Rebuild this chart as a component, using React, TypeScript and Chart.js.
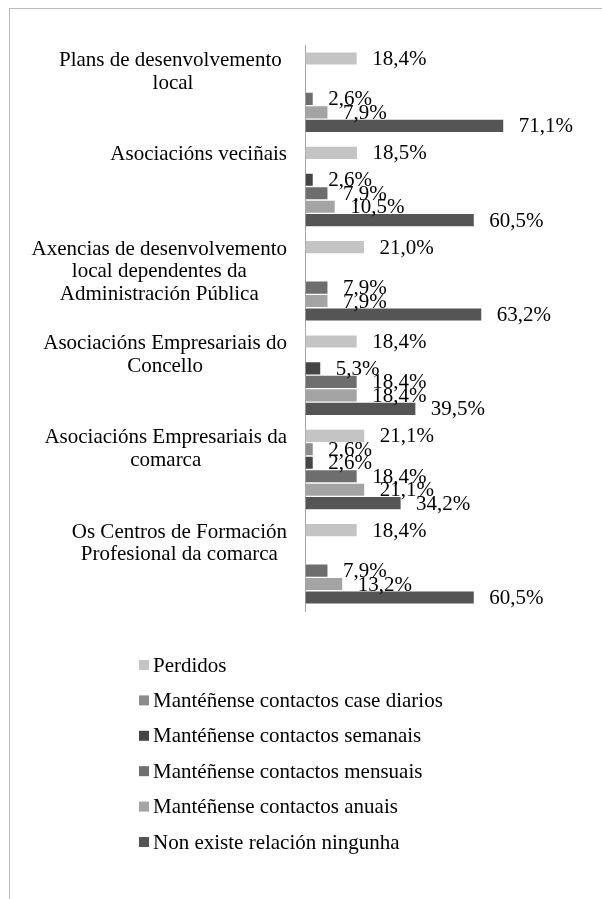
import React, { useEffect, useRef } from "react";
import { Chart, registerables } from "chart.js";

Chart.register(...registerables);

const categories: string[][] = [
  ["Plans de desenvolvemento ", "local"],
  ["Asociacións veciñais"],
  ["Axencias de desenvolvemento", "local dependentes da", "Administración Pública"],
  ["Asociacións Empresariais do", "Concello"],
  ["Asociacións Empresariais da", "comarca"],
  ["Os Centros de Formación", "Profesional da comarca"],
];

const seriesNames = [
  "Perdidos",
  "Mantéñense contactos case diarios",
  "Mantéñense contactos semanais",
  "Mantéñense contactos mensuais",
  "Mantéñense contactos anuais",
  "Non existe relación ningunha",
];

const perdidos = [18.4, 18.5, 21.0, 18.4, 21.1, 18.4];
const caseDiarios = [0, 0, 0, 0, 2.6, 0];
const semanais = [0, 2.6, 0, 5.3, 2.6, 0];
const mensuais = [2.6, 7.9, 7.9, 18.4, 18.4, 7.9];
const anuais = [7.9, 10.5, 7.9, 18.4, 21.1, 13.2];
const nonExiste = [71.1, 60.5, 63.2, 39.5, 34.2, 60.5];

const seriesValues = [perdidos, caseDiarios, semanais, mensuais, anuais, nonExiste];
const seriesColors = ["#c4c4c4", "#8c8c8c", "#454545", "#6e6e6e", "#a4a4a4", "#555555"];

const FONT = '"Liberation Serif", "Times New Roman", serif';
const FONT_SIZE = 21;

const dataLabelPlugin = {
  id: "dataLabels",
  afterDatasetsDraw(chart: any) {
    const ctx = chart.ctx;
    ctx.save();
    ctx.font = `${FONT_SIZE}px ${FONT}`;
    ctx.fillStyle = "#000";
    ctx.textAlign = "left";
    ctx.textBaseline = "middle";
    chart.data.datasets.forEach((ds: any, di: number) => {
      const meta = chart.getDatasetMeta(di);
      meta.data.forEach((el: any, i: number) => {
        const v = ds.data[i];
        if (!v) return;
        const txt = v.toFixed(1).replace(".", ",") + "%";
        ctx.fillText(txt, el.x + 15.5, el.y + 1);
      });
    });
    ctx.restore();
  },
};

const categoryLabelPlugin = {
  id: "categoryLabels",
  afterDraw(chart: any) {
    const ctx = chart.ctx;
    const y = chart.scales.y;
    const labels = chart.data.labels as string[][];
    const n = labels.length;
    const catH = (y.bottom - y.top) / n;
    const right = 287;
    ctx.save();
    ctx.font = `${FONT_SIZE}px ${FONT}`;
    ctx.fillStyle = "#000";
    ctx.textAlign = "center";
    ctx.textBaseline = "middle";
    labels.forEach((lines, i) => {
      const start = y.getPixelForValue(i) - catH / 2;
      const w = Math.max(...lines.map((l) => ctx.measureText(l).width));
      const cx = right - w / 2;
      lines.forEach((l, k) => {
        ctx.fillText(l, cx, start + 15.5 + k * 22.5);
      });
    });
    ctx.restore();
  },
};

const legendPlugin = {
  id: "verticalLegend",
  afterDraw(chart: any) {
    const ctx = chart.ctx;
    ctx.save();
    ctx.font = `${FONT_SIZE}px ${FONT}`;
    ctx.textAlign = "left";
    ctx.textBaseline = "middle";
    chart.data.datasets.forEach((ds: any, i: number) => {
      const cy = 665 + i * 35.4;
      ctx.fillStyle = ds.backgroundColor;
      ctx.fillRect(139, cy - 5, 10, 10);
      ctx.fillStyle = "#000";
      ctx.fillText(ds.label, 153, cy + 1);
    });
    ctx.restore();
  },
};

export default function App() {
  const ref = useRef<HTMLCanvasElement | null>(null);

  useEffect(() => {
    document.documentElement.style.overflow = "hidden";
    const canvas = ref.current;
    if (!canvas) return;
    const chart = new Chart(canvas, {
      type: "bar",
      data: {
        labels: categories as any,
        datasets: seriesNames.map((name, i) => ({
          label: name,
          data: seriesValues[i],
          backgroundColor: seriesColors[i],
          borderWidth: 0,
          categoryPercentage: 0.857,
          barPercentage: 0.9,
        })),
      },
      options: {
        indexAxis: "y",
        responsive: false,
        maintainAspectRatio: false,
        animation: false,
        devicePixelRatio: 1,
        layout: { padding: { left: 0, top: 45, right: 74, bottom: 288 } },
        plugins: {
          legend: { display: false },
          tooltip: { enabled: false },
        },
        scales: {
          x: { display: false, min: 0, max: 80 },
          y: {
            display: true,
            grid: { display: false, drawTicks: false },
            border: { display: true, color: "#a6a6a6", width: 1 },
            ticks: { display: false },
            afterFit: (s: any) => {
              s.width = 305.5;
            },
          },
        },
      } as any,
      plugins: [dataLabelPlugin, categoryLabelPlugin, legendPlugin],
    });
    return () => chart.destroy();
  }, []);

  return (
    <div>
      <div
        style={{
          position: "absolute",
          left: 9,
          top: 8,
          width: 593,
          height: 891,
          boxSizing: "border-box",
          borderTop: "1px solid #bcbcbc",
          borderLeft: "1px solid #bcbcbc",
        }}
      />
      <canvas
        ref={ref}
        width={602}
        height={899}
        style={{ position: "absolute", left: 0, top: 0, width: 602, height: 899 }}
      />
    </div>
  );
}
